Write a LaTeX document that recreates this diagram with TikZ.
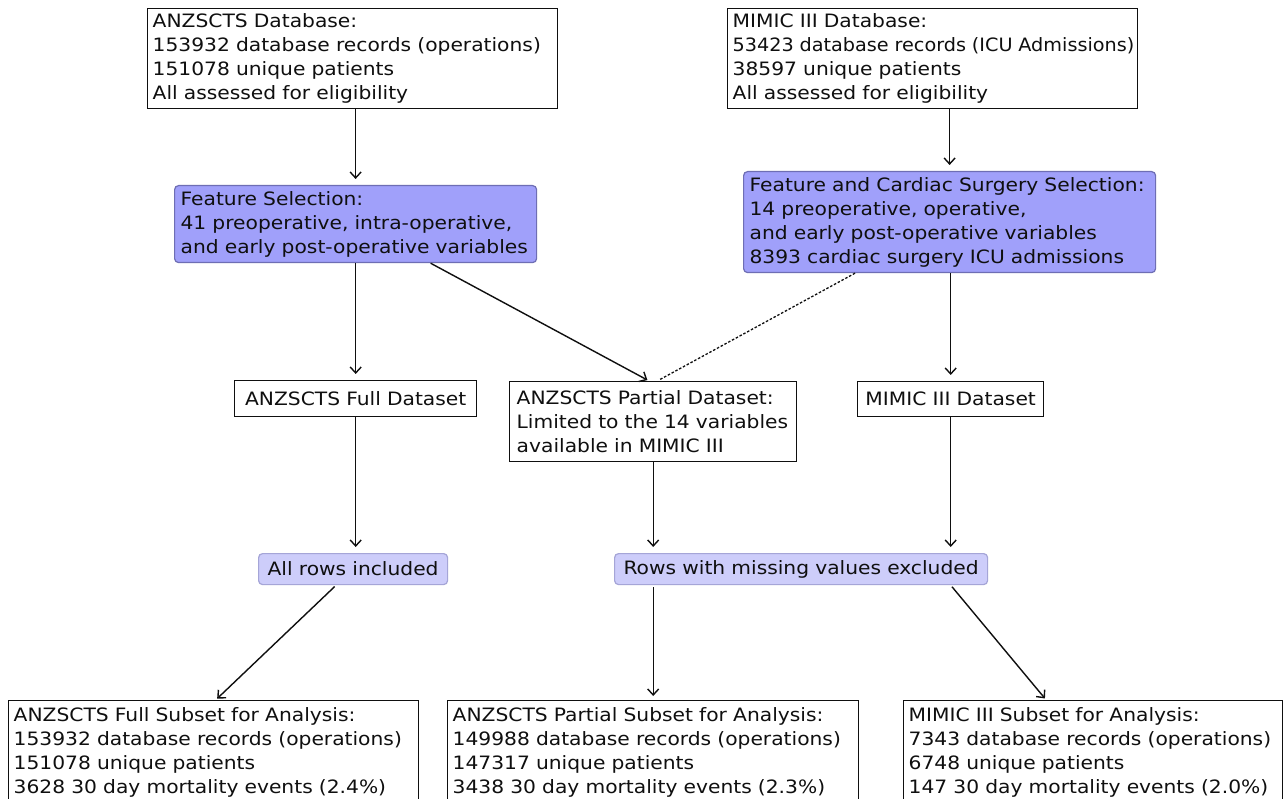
\documentclass[tikz,border=0pt]{standalone}
\usepackage{graphicx}
\usepackage{fontspec}
\setmainfont[FakeStretch=1.1]{DejaVu Sans}
\usetikzlibrary{arrows.meta,calc}
\definecolor{selfill}{RGB}{160,160,250}
\definecolor{seldraw}{RGB}{110,110,180}
\definecolor{labfill}{RGB}{205,205,250}
\definecolor{labdraw}{RGB}{165,165,215}
\definecolor{ink}{RGB}{15,15,15}
\tikzset{
  basebox/.style={anchor=north west, inner ysep=0pt, text=ink,
    font=\fontsize{18.4pt}{24pt}\selectfont},
  plainbox/.style={basebox, draw=ink, line width=1.4pt, align=left},
  selbox/.style={basebox, draw=seldraw, fill=selfill, line width=1.2pt,
    rounded corners=4pt, align=left},
  labbox/.style={basebox, draw=labdraw, fill=labfill, line width=1.2pt,
    rounded corners=4pt, align=center},
  arr/.style={draw=ink, line width=1.4pt,
    -{Straight Barb[length=6pt,width=11pt,line width=1.4pt]}},
  dashln/.style={draw=ink, line width=1.3pt, dash pattern=on 2.5pt off 1.8pt}
}
\begin{document}
\begin{tikzpicture}[x=1pt,y=-1pt]
\clip (0,0) rectangle (1286,799);
\fill[white] (0,0) rectangle (1286,799);

\node[plainbox, inner xsep=5pt, text width=400pt, minimum height=100pt] (adb) at (147,8)
 {ANZSCTS Database:\\153932 database records (operations)\\151078 unique patients\\All assessed for eligibility};
\node[plainbox, inner xsep=5pt, text width=400pt, minimum height=100pt] (mdb) at (727,8)
 {MIMIC III Database:\\\mbox{\scalebox{0.95}[1]{53423 database records (ICU Admissions)}}\\38597 unique patients\\All assessed for eligibility};

\node[selbox, inner xsep=6pt, text width=350pt, minimum height=77pt] (fs) at (174,185)
 {Feature Selection:\\41 preoperative, intra-operative,\\and early post-operative variables};
\node[selbox, inner xsep=6pt, text width=400pt, minimum height=101pt] (cs) at (743,171)
 {\mbox{Feature and Cardiac Surgery Selection:}\\14 preoperative, operative,\\and early post-operative variables\\8393 cardiac surgery ICU admissions};

\node[plainbox, align=center, inner xsep=5pt, text width=232pt, minimum height=36pt] (fd) at (234,380)
 {ANZSCTS Full Dataset};
\node[plainbox, inner xsep=7pt, text width=273pt, minimum height=80pt] (pd) at (509,381)
 {ANZSCTS Partial Dataset:\\Limited to the 14 variables\\available in MIMIC III};
\node[plainbox, align=center, inner xsep=5pt, text width=176pt, minimum height=35pt] (md) at (857,381)
 {MIMIC III Dataset};

\node[labbox, inner xsep=4pt, text width=181pt, minimum height=31pt] (ar) at (258,553)
 {All rows included};
\node[labbox, inner xsep=4pt, text width=365pt, minimum height=31pt] (rm) at (614,553)
 {Rows with missing values excluded};

\node[plainbox, inner xsep=5pt, text width=400pt, minimum height=104pt] (bl) at (8,700)
 {ANZSCTS Full Subset for Analysis:\\153932 database records (operations)\\151078 unique patients\\3628 30 day mortality events (2.4\%)};
\node[plainbox, inner xsep=5pt, text width=401pt, minimum height=104pt] (bm) at (447,700)
 {ANZSCTS Partial Subset for Analysis:\\149988 database records (operations)\\147317 unique patients\\3438 30 day mortality events (2.3\%)};
\node[plainbox, inner xsep=5pt, text width=369pt, minimum height=104pt] (br) at (903,700)
 {MIMIC III Subset for Analysis:\\7343 database records (operations)\\6748 unique patients\\147 30 day mortality events (2.0\%)};

\draw[arr, shorten >=6pt] (fs.north |- adb.south) -- (fs.north);
\draw[arr, shorten >=6pt] (cs.north |- mdb.south) -- (cs.north);
\draw[arr, shorten >=6pt] (fd.north |- fs.south) -- (fd.north);
\draw[arr, shorten >=2pt] ($(fs.south)+(75,0)$) -- ($(pd.north)+(-4,0)$);
\draw[dashln, shorten >=2pt] ($(cs.south west)+(112,0)$) -- ($(pd.north)+(4,0)$);
\draw[arr, shorten >=6pt] (md.north |- cs.south) -- (md.north);
\draw[arr, shorten >=6pt] (fd.south) -- (fd.south |- ar.north);
\draw[arr, shorten >=6pt] (pd.south) -- (pd.south |- rm.north);
\draw[arr, shorten >=6pt] (md.south) -- (md.south |- rm.north);
\draw[arr, shorten <=2pt, shorten >=2pt] ($(ar.south)+(-17,0)$) -- ($(bl.north)+(2,0)$);
\draw[arr, shorten <=2pt, shorten >=4pt] (bm.north |- rm.south) -- (bm.north);
\draw[arr, shorten <=2pt, shorten >=2pt] (md.south |- rm.south) -- ($(br.north)+(-47,0)$);
\end{tikzpicture}
\end{document}
